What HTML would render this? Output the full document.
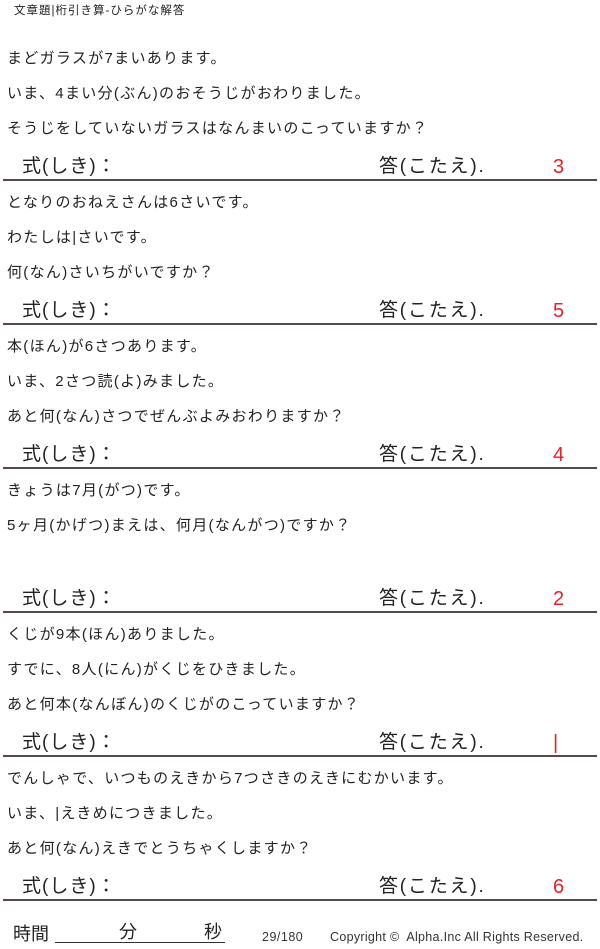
<!DOCTYPE html>
<html><head><meta charset="utf-8"><style>
body{margin:0;width:600px;height:949px;background:#fff;position:relative;overflow:hidden;font-family:"Liberation Sans","Noto Sans CJK JP",sans-serif;color:#222}
.t{position:absolute;left:7px;font-size:15px;line-height:20px;white-space:nowrap;letter-spacing:1.3px}
.s{position:absolute;left:22px;font-size:19px;line-height:24px;letter-spacing:1px}
.a{position:absolute;left:379px;font-size:19px;line-height:24px;letter-spacing:1.8px}
.n{position:absolute;left:553px;font-size:20px;line-height:24px;color:#e8202a}
.u{position:absolute;left:3px;width:594px;height:2px;background:#554a48}
</style></head><body>
<div style="position:absolute;left:14px;top:3px;font-size:11.5px;line-height:16px;letter-spacing:1px">文章題|桁引き算-ひらがな解答</div>
<div id="c"></div>
<script>
var secs=[
["まどガラスが7まいあります。","いま、4まい分(ぶん)のおそうじがおわりました。","そうじをしていないガラスはなんまいのこっていますか？","3"],
["となりのおねえさんは6さいです。","わたしは|さいです。","何(なん)さいちがいですか？","5"],
["本(ほん)が6さつあります。","いま、2さつ読(よ)みました。","あと何(なん)さつでぜんぶよみおわりますか？","4"],
["きょうは7月(がつ)です。","5ヶ月(かげつ)まえは、何月(なんがつ)ですか？","","2"],
["くじが9本(ほん)ありました。","すでに、8人(にん)がくじをひきました。","あと何本(なんぼん)のくじがのこっていますか？","|"],
["でんしゃで、いつものえきから7つさきのえきにむかいます。","いま、|えきめにつきました。","あと何(なん)えきでとうちゃくしますか？","6"]];
var h="";
secs.forEach(function(s,i){var u=179+i*144;
for(var k=0;k<3;k++) if(s[k]) h+='<div class="t" style="top:'+(u-130+k*35)+'px">'+s[k]+'</div>';
h+='<div class="s" style="top:'+(u-24)+'px">式(しき)：</div><div class="a" style="top:'+(u-24)+'px">答(こたえ).</div><div class="n" style="top:'+(u-24)+'px">'+s[3]+'</div><div class="u" style="top:'+u+'px"></div>';});
document.getElementById("c").innerHTML=h;
</script>
<div style="position:absolute;left:13px;top:922px;font-size:18px;line-height:24px">時間</div>
<div style="position:absolute;left:55px;top:942px;width:170px;height:1px;background:#333"></div>
<div style="position:absolute;left:119px;top:920px;font-size:18px;line-height:24px">分</div>
<div style="position:absolute;left:204px;top:920px;font-size:18px;line-height:24px">秒</div>
<div style="position:absolute;left:262px;top:929px;font-size:12.5px;line-height:16px;color:#333;letter-spacing:0.5px">29/180</div>
<div style="position:absolute;left:330px;top:929px;font-size:12.5px;line-height:16px;color:#333;letter-spacing:0.3px">Copyright ©&nbsp; Alpha.Inc All Rights Reserved.</div>
</body></html>
